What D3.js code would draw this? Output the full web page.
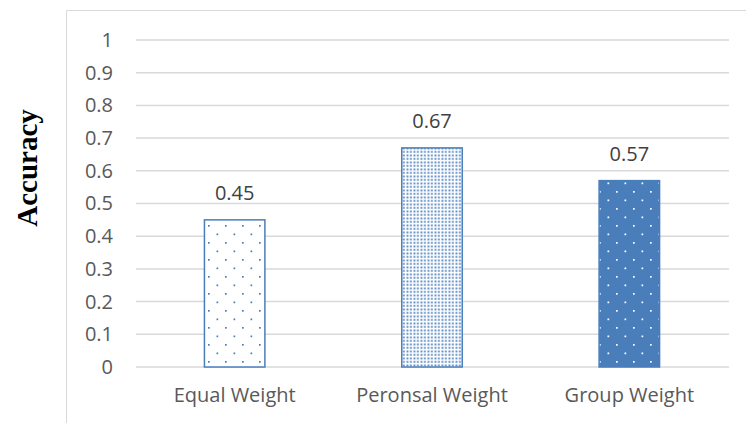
<!DOCTYPE html>
<html>
<head>
<meta charset="utf-8">
<script src="https://cdn.jsdelivr.net/npm/d3@7"></script>
<style>
  body { margin: 0; background: #fff; }
  svg { display: block; }
</style>
</head>
<body>
<svg id="chart" width="746" height="423"></svg>
<script>
// data
const categories = ["Equal Weight", "Peronsal Weight", "Group Weight"]
const accuracy = [0.45, 0.67, 0.57]
const yTicks = [0, 0.1, 0.2, 0.3, 0.4, 0.5, 0.6, 0.7, 0.8, 0.9, 1]
const patterns = ["sparse", "dense", "solid"]

const blue = "#4a7ebb"
const svg = d3.select("#chart")

// chart frame (left + top edge only visible)
svg.append("path")
  .attr("d", "M66.5,423V10.5H746")
  .attr("fill", "none")
  .attr("stroke", "#d9d9d9")
  .attr("stroke-width", 1)

// patterns
const defs = svg.append("defs")
const sparse = defs.append("pattern").attr("id", "sparse")
  .attr("patternUnits", "userSpaceOnUse").attr("width", 17).attr("height", 17)
sparse.append("rect").attr("width", 17).attr("height", 17).attr("fill", "#fff")
;[[4, 4], [12.5, 12.5]].forEach(p => {
  sparse.append("rect").attr("x", p[0]).attr("y", p[1]).attr("width", 1.7).attr("height", 1.7).attr("fill", blue)
})

const dense = defs.append("pattern").attr("id", "dense")
  .attr("patternUnits", "userSpaceOnUse").attr("width", 3.5).attr("height", 3.5)
dense.append("rect").attr("width", 3.5).attr("height", 3.5).attr("fill", "#fff")
dense.append("rect").attr("x", 0.5).attr("y", 0.5).attr("width", 1.8).attr("height", 1.8).attr("fill", blue)

const solid = defs.append("pattern").attr("id", "solid")
  .attr("patternUnits", "userSpaceOnUse").attr("width", 17).attr("height", 17)
solid.append("rect").attr("width", 17).attr("height", 17).attr("fill", blue)
;[[4, 4], [12.5, 12.5]].forEach(p => {
  solid.append("rect").attr("x", p[0]).attr("y", p[1]).attr("width", 1.7).attr("height", 1.7).attr("fill", "#fff")
})

// scales
const x = d3.scaleBand().domain(categories).range([136, 728]).paddingInner(0.686).paddingOuter(0.343)
const y = d3.scaleLinear().domain([0, 1]).range([367, 40])

// gridlines
svg.append("g")
  .selectAll("line").data(yTicks).enter()
  .append("line")
  .attr("x1", 136).attr("x2", 729)
  .attr("y1", d => y(d)).attr("y2", d => y(d))
  .attr("stroke", "#d9d9d9")
  .attr("stroke-width", 1.5)

// y axis
const yAxis = svg.append("g")
  .attr("transform", "translate(113,0)")
  .call(d3.axisLeft(y).tickValues(yTicks).tickFormat(d3.format("")).tickSize(0).tickPadding(0))
yAxis.select(".domain").remove()
yAxis.selectAll("text")
  .attr("font-family", "Open Sans, sans-serif")
  .attr("font-size", 20)
  .attr("fill", "#595959")

// bars
const data = categories.map((c, i) => ({ name: c, value: accuracy[i], pat: patterns[i] }))
svg.append("g")
  .selectAll("rect").data(data).enter()
  .append("rect")
  .attr("x", d => x(d.name) + 0.75)
  .attr("y", d => y(d.value))
  .attr("width", x.bandwidth() - 1.5)
  .attr("height", d => y(0) - y(d.value))
  .attr("fill", d => "url(#" + d.pat + ")")
  .attr("stroke", blue)
  .attr("stroke-width", 1.5)

// value labels
svg.append("g")
  .selectAll("text").data(data).enter()
  .append("text")
  .attr("x", d => x(d.name) + x.bandwidth() / 2)
  .attr("y", d => y(d.value) - 20)
  .attr("text-anchor", "middle")
  .attr("font-family", "Open Sans, sans-serif")
  .attr("font-size", 20)
  .attr("fill", "#404040")
  .text(d => d.value)

// x axis labels
const xAxis = svg.append("g")
  .attr("transform", "translate(0,367)")
  .call(d3.axisBottom(x).tickSize(0).tickPadding(21))
xAxis.select(".domain").remove()
xAxis.selectAll("text")
  .attr("font-family", "Open Sans, sans-serif")
  .attr("font-size", 20)
  .attr("fill", "#595959")

// y title
svg.append("text")
  .attr("transform", "translate(37,168) rotate(-90)")
  .attr("text-anchor", "middle")
  .attr("font-family", "Liberation Serif, serif")
  .attr("font-weight", "bold")
  .attr("font-size", 29)
  .attr("fill", "#000")
  .text("Accuracy")
</script>
</body>
</html>
